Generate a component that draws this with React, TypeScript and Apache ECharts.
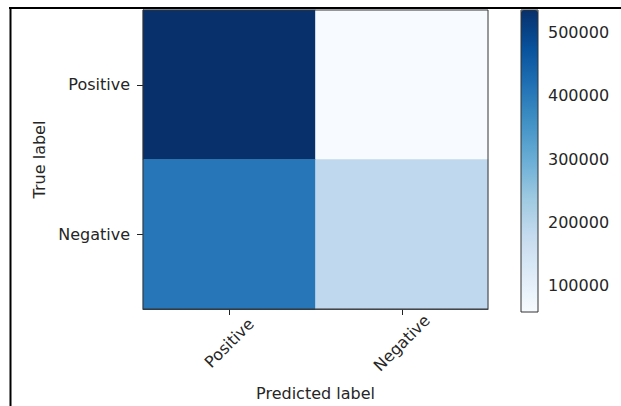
import React, { useEffect, useRef } from "react";
import * as echarts from "echarts";

const predictedLabels = ["Positive", "Negative"];
const trueLabels = ["Positive", "Negative"];
// rows = true label, columns = predicted label
const rowPositive = [536000, 58000];
const rowNegative = [405000, 187000];
const colorMin = 58000;
const colorMax = 536000;
const colorTicks = [100000, 200000, 300000, 400000, 500000];
const blues = ["#f7fbff", "#deebf7", "#c6dbef", "#9ecae1", "#6baed6", "#4292c6", "#2171b5", "#08519c", "#08306b"];

const FONT = "DejaVu Sans";
const TXT = "#262626";
const FS = 16;

export default function App() {
  const ref = useRef<HTMLDivElement>(null);
  useEffect(() => {
    const chart = echarts.init(ref.current!, null, { renderer: "svg" });
    const rows = [rowPositive, rowNegative];
    const data: number[][] = [];
    rows.forEach((r, i) => r.forEach((v, j) => data.push([j, i, v])));
    chart.setOption({
      animation: false,
      backgroundColor: "#ffffff",
      textStyle: { fontFamily: FONT },
      grid: [
        { left: 143, top: 10, width: 345, height: 302, show: true, borderColor: "#333", borderWidth: 1, backgroundColor: "transparent", z: 5 },
        { left: 521, top: 10, width: 17, height: 302, show: true, borderColor: "#333", borderWidth: 1, backgroundColor: "transparent", z: 5 },
      ],
      xAxis: [
        {
          type: "category",
          data: predictedLabels,
          gridIndex: 0,
          position: "bottom",
          name: "Predicted label",
          nameLocation: "middle",
          nameGap: 76,
          nameTextStyle: { fontFamily: FONT, fontSize: FS, color: TXT },
          axisLine: { show: true, lineStyle: { color: "#333", width: 1 } },
          axisTick: { show: true, alignWithLabel: true, length: 6, lineStyle: { color: "#222" } },
          axisLabel: { rotate: 45, align: "center", verticalAlign: "middle", margin: 34, fontFamily: FONT, fontSize: FS, color: TXT },
          splitLine: { show: false },
        },
        { type: "value", gridIndex: 1, show: false, min: 0, max: 1 },
      ],
      yAxis: [
        {
          type: "category",
          data: trueLabels,
          inverse: true,
          gridIndex: 0,
          name: "True label",
          nameLocation: "middle",
          nameGap: 95,
          nameTextStyle: { fontFamily: FONT, fontSize: FS, color: TXT },
          axisLine: { show: true, lineStyle: { color: "#333", width: 1 } },
          axisTick: { show: true, alignWithLabel: true, length: 6, lineStyle: { color: "#222" } },
          axisLabel: { margin: 13, fontFamily: FONT, fontSize: FS, color: TXT, padding: [5, 0, 0, 0] },
          splitLine: { show: false },
        },
        {
          type: "value",
          gridIndex: 1,
          position: "right",
          min: colorMin,
          max: colorMax,
          axisLine: { show: false },
          axisTick: { show: true, length: 6, lineStyle: { color: "#222" }, customValues: colorTicks },
          axisLabel: { margin: 10, fontFamily: FONT, fontSize: FS, color: TXT, customValues: colorTicks, formatter: (v: number) => String(v) },
          splitLine: { show: false },
        },
      ],
      visualMap: {
        type: "continuous",
        min: colorMin,
        max: colorMax,
        seriesIndex: 0,
        calculable: false,
        orient: "vertical",
        left: 521,
        top: 10,
        padding: 0,
        itemWidth: 17,
        itemHeight: 302,
        inRange: { color: blues },
      },
      graphic: [
        { type: "line", shape: { x1: 9, y1: 8, x2: 621, y2: 8 }, style: { stroke: "#000", lineWidth: 2 }, z: 100 },
        { type: "line", shape: { x1: 10.5, y1: 7, x2: 10.5, y2: 406 }, style: { stroke: "#000", lineWidth: 2 }, z: 100 },
      ],
      series: [
        {
          type: "heatmap",
          xAxisIndex: 0,
          yAxisIndex: 0,
          data,
          itemStyle: { borderWidth: 0 },
          emphasis: { disabled: true },
        },
      ],
    });
    return () => chart.dispose();
  }, []);
  return <div ref={ref} style={{ position: "fixed", left: 0, top: 0, width: 621, height: 406 }} />;
}
